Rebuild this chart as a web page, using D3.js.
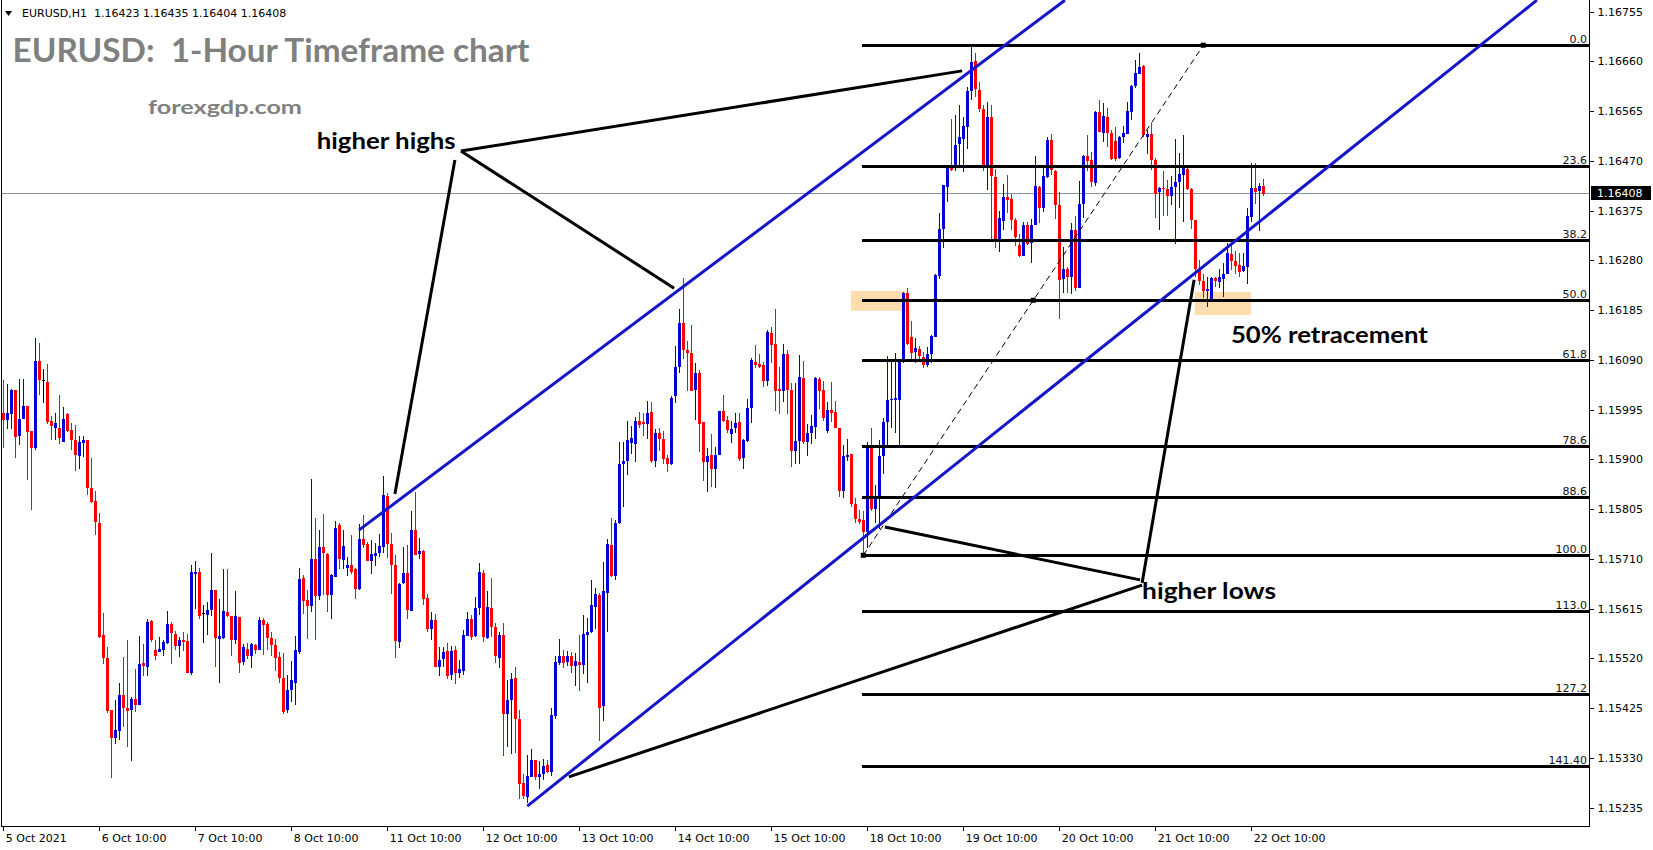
<!DOCTYPE html>
<html><head><meta charset="utf-8">
<script src="https://cdn.jsdelivr.net/npm/d3@7"></script>
<style>body{margin:0;background:#fff;overflow:hidden}svg{display:block}</style>
</head><body>
<svg id="c" width="1653" height="850"></svg>
<script>
// ---- DATA (EURUSD H1, candle index 0 = 5 Oct 2021) ----
const opens = [
1.15988,1.15974,1.15988,1.16032,1.15946,1.15978,1.16002,1.15954,1.15922,1.16088,
1.16051,1.16047,1.15973,1.15961,1.15960,1.15934,1.15986,1.15956,1.15937,1.15908,
1.15932,1.15937,1.15846,1.15820,1.15779,1.15564,1.15520,1.15421,1.15367,1.15383,
1.15451,1.15426,1.15421,1.15443,1.15432,1.15512,1.15504,1.15591,1.15537,1.15532,
1.15536,1.15548,1.15585,1.15567,1.15544,1.15555,1.15553,1.15492,1.15682,1.15686,
1.15606,1.15602,1.15611,1.15650,1.15556,1.15560,1.15609,1.15602,1.15555,1.15599,
1.15513,1.15539,1.15526,1.15546,1.15536,1.15593,1.15585,1.15560,1.15546,1.15522,
1.15482,1.15421,1.15458,1.15473,1.15532,1.15674,1.15631,1.15620,1.15709,1.15639,
1.15732,1.15720,1.15641,1.15677,1.15774,1.15709,1.15692,1.15699,1.15690,1.15652,
1.15748,1.15739,1.15706,1.15717,1.15720,1.15733,1.15830,1.15739,1.15699,1.15553,
1.15663,1.15683,1.15612,1.15766,1.15719,1.15725,1.15636,1.15576,1.15593,1.15504,
1.15518,1.15535,1.15489,1.15536,1.15493,1.15497,1.15564,1.15596,1.15563,1.15616,
1.15684,1.15559,1.15616,1.15580,1.15522,1.15565,1.15415,1.15441,1.15482,1.15404,
1.15282,1.15255,1.15294,1.15326,1.15294,1.15299,1.15317,1.15304,1.15410,1.15512,
1.15525,1.15514,1.15525,1.15506,1.15513,1.15508,1.15565,1.15570,1.15619,1.15641,
1.15428,1.15645,1.15737,1.15676,1.15780,1.15892,1.15896,1.15932,1.15931,1.15974,
1.15971,1.15967,1.15991,1.15897,1.15950,1.15940,1.15903,1.15892,1.16020,1.16076,
1.16160,1.16109,1.16104,1.16032,1.16065,1.15971,1.15895,1.15908,1.15881,1.15908,
1.15992,1.15975,1.15950,1.15959,1.15971,1.15903,1.15936,1.15999,1.16086,1.16083,
1.16080,1.16050,1.16142,1.16120,1.16034,1.16030,1.16101,1.16032,1.15916,1.15935,
1.16055,1.15932,1.15950,1.15962,1.16053,1.16032,1.15953,1.15994,1.15991,1.15961,
1.15841,1.15905,1.15910,1.15815,1.15786,1.15784,1.15762,1.15928,1.15805,1.15826,
1.15907,1.15972,1.16014,1.16014,1.16014,1.16085,1.16217,1.16133,1.16105,1.16110,
1.16096,1.16080,1.16101,1.16133,1.16251,1.16340,1.16421,1.16459,1.16459,1.16501,
1.16513,1.16536,1.16602,1.16660,1.16606,1.16569,1.16457,1.16553,1.16440,1.16320,
1.16357,1.16402,1.16397,1.16357,1.16310,1.16289,1.16348,1.16313,1.16348,1.16421,
1.16380,1.16439,1.16510,1.16451,1.16386,1.16243,1.16263,1.16248,1.16338,1.16227,
1.16388,1.16480,1.16471,1.16429,1.16564,1.16524,1.16553,1.16524,1.16508,1.16475,
1.16516,1.16523,1.16564,1.16612,1.16636,1.16652,1.16516,1.16521,1.16472,1.16411,
1.16418,1.16416,1.16403,1.16420,1.16430,1.16443,1.16455,1.16416,1.16357,1.16263,
1.16241,1.16222,1.16206,1.16246,1.16238,1.16246,1.16255,1.16292,1.16279,1.16271,
1.16260,1.16268,1.16364,1.16419,1.16413,1.16423];
const highs = [
1.16051,1.16045,1.16035,1.16033,1.16053,1.16054,1.16002,1.15954,1.16131,1.16123,
1.16072,1.16083,1.15983,1.15989,1.16024,1.16000,1.15989,1.15970,1.15965,1.15945,
1.15944,1.15938,1.15902,1.15839,1.15798,1.15606,1.15542,1.15421,1.15440,1.15474,
1.15522,1.15555,1.15446,1.15499,1.15562,1.15548,1.15596,1.15593,1.15555,1.15561,
1.15555,1.15610,1.15590,1.15572,1.15561,1.15571,1.15567,1.15699,1.15706,1.15693,
1.15622,1.15627,1.15722,1.15650,1.15634,1.15690,1.15690,1.15602,1.15648,1.15599,
1.15547,1.15550,1.15550,1.15548,1.15599,1.15597,1.15590,1.15571,1.15558,1.15532,
1.15531,1.15488,1.15515,1.15562,1.15692,1.15679,1.15651,1.15862,1.15789,1.15765,
1.15795,1.15721,1.15682,1.15782,1.15778,1.15765,1.15713,1.15755,1.15692,1.15776,
1.15793,1.15743,1.15746,1.15741,1.15757,1.15869,1.15836,1.15760,1.15718,1.15664,
1.15733,1.15737,1.15802,1.15837,1.15750,1.15727,1.15644,1.15609,1.15604,1.15542,
1.15542,1.15549,1.15543,1.15543,1.15517,1.15575,1.15608,1.15603,1.15637,1.15703,
1.15688,1.15649,1.15674,1.15587,1.15570,1.15587,1.15479,1.15493,1.15503,1.15422,
1.15299,1.15336,1.15347,1.15326,1.15324,1.15328,1.15326,1.15426,1.15524,1.15557,
1.15536,1.15535,1.15533,1.15531,1.15565,1.15603,1.15597,1.15670,1.15654,1.15645,
1.15705,1.15748,1.15789,1.15785,1.15934,1.15934,1.15974,1.15963,1.15982,1.15991,
1.15988,1.16011,1.16010,1.15959,1.15961,1.15955,1.15909,1.16021,1.16116,1.16187,
1.16246,1.16126,1.16156,1.16085,1.16071,1.15971,1.15921,1.15948,1.15923,1.15992,
1.16023,1.15983,1.15973,1.15988,1.15988,1.15940,1.16016,1.16093,1.16118,1.16102,
1.16086,1.16147,1.16152,1.16187,1.16077,1.16121,1.16109,1.16046,1.16046,1.16099,
1.16088,1.15967,1.15985,1.16058,1.16058,1.16050,1.16010,1.16047,1.16011,1.15961,
1.15927,1.15940,1.15910,1.15826,1.15803,1.15802,1.15934,1.15961,1.15851,1.15938,
1.15979,1.16098,1.16090,1.16103,1.16091,1.16219,1.16227,1.16164,1.16131,1.16117,
1.16105,1.16115,1.16138,1.16255,1.16370,1.16425,1.16459,1.16550,1.16558,1.16577,
1.16553,1.16612,1.16691,1.16677,1.16621,1.16577,1.16583,1.16577,1.16454,1.16374,
1.16426,1.16443,1.16406,1.16362,1.16331,1.16354,1.16354,1.16360,1.16480,1.16423,
1.16460,1.16516,1.16521,1.16453,1.16411,1.16305,1.16268,1.16351,1.16365,1.16432,
1.16481,1.16520,1.16488,1.16565,1.16586,1.16580,1.16571,1.16529,1.16534,1.16518,
1.16537,1.16583,1.16615,1.16663,1.16676,1.16653,1.16530,1.16542,1.16475,1.16421,
1.16450,1.16434,1.16441,1.16511,1.16485,1.16520,1.16462,1.16418,1.16357,1.16280,
1.16255,1.16248,1.16248,1.16248,1.16263,1.16275,1.16314,1.16313,1.16299,1.16294,
1.16294,1.16380,1.16467,1.16466,1.16427,1.16435];
const lows = [
1.15921,1.15959,1.15959,1.15902,1.15927,1.15978,1.15860,1.15804,1.15919,1.16023,
1.16008,1.15968,1.15937,1.15937,1.15930,1.15934,1.15953,1.15918,1.15878,1.15881,
1.15905,1.15832,1.15816,1.15755,1.15560,1.15509,1.15415,1.15292,1.15357,1.15365,
1.15390,1.15351,1.15324,1.15417,1.15432,1.15486,1.15486,1.15552,1.15517,1.15532,
1.15524,1.15548,1.15510,1.15536,1.15523,1.15534,1.15492,1.15489,1.15614,1.15595,
1.15550,1.15564,1.15602,1.15504,1.15473,1.15558,1.15599,1.15525,1.15548,1.15492,
1.15508,1.15518,1.15502,1.15529,1.15536,1.15526,1.15536,1.15524,1.15496,1.15473,
1.15413,1.15416,1.15437,1.15431,1.15529,1.15604,1.15558,1.15609,1.15555,1.15631,
1.15641,1.15609,1.15595,1.15677,1.15690,1.15690,1.15677,1.15681,1.15633,1.15650,
1.15730,1.15706,1.15681,1.15697,1.15714,1.15721,1.15712,1.15643,1.15521,1.15540,
1.15663,1.15596,1.15611,1.15717,1.15709,1.15623,1.15571,1.15555,1.15503,1.15486,
1.15503,1.15481,1.15479,1.15471,1.15482,1.15489,1.15564,1.15556,1.15561,1.15603,
1.15552,1.15558,1.15561,1.15512,1.15501,1.15333,1.15350,1.15337,1.15340,1.15251,
1.15251,1.15244,1.15294,1.15288,1.15270,1.15288,1.15301,1.15296,1.15405,1.15508,
1.15501,1.15506,1.15493,1.15468,1.15457,1.15491,1.15474,1.15568,1.15576,1.15363,
1.15401,1.15570,1.15676,1.15669,1.15777,1.15810,1.15871,1.15911,1.15896,1.15960,
1.15944,1.15940,1.15894,1.15886,1.15916,1.15892,1.15876,1.15890,1.16007,1.16065,
1.16092,1.16030,1.16032,1.15975,1.15915,1.15859,1.15838,1.15848,1.15845,1.15908,
1.15972,1.15950,1.15932,1.15951,1.15897,1.15881,1.15934,1.15970,1.16075,1.16075,
1.16039,1.16041,1.16085,1.15993,1.15986,1.16010,1.15986,1.15886,1.15891,1.15891,
1.15930,1.15906,1.15930,1.15939,1.15996,1.15974,1.15951,1.15972,1.15960,1.15829,
1.15827,1.15897,1.15810,1.15778,1.15777,1.15717,1.15730,1.15802,1.15779,1.15767,
1.15872,1.15924,1.15961,1.15950,1.15928,1.16084,1.16119,1.16088,1.16085,1.16090,
1.16074,1.16077,1.16084,1.16133,1.16245,1.16303,1.16392,1.16450,1.16450,1.16462,
1.16448,1.16493,1.16586,1.16593,1.16564,1.16451,1.16415,1.16321,1.16303,1.16297,
1.16338,1.16370,1.16338,1.16308,1.16286,1.16289,1.16310,1.16276,1.16348,1.16352,
1.16373,1.16437,1.16443,1.16359,1.16169,1.16217,1.16217,1.16216,1.16222,1.16227,
1.16362,1.16450,1.16421,1.16422,1.16526,1.16507,1.16496,1.16472,1.16469,1.16473,
1.16504,1.16522,1.16548,1.16609,1.16636,1.16516,1.16483,1.16453,1.16362,1.16338,
1.16364,1.16364,1.16386,1.16311,1.16380,1.16354,1.16415,1.16341,1.16248,1.16233,
1.16208,1.16192,1.16206,1.16230,1.16227,1.16210,1.16255,1.16262,1.16255,1.16248,
1.16257,1.16235,1.16354,1.16388,1.16337,1.16404];
const closes = [
1.15975,1.15988,1.16033,1.15943,1.15978,1.16003,1.15953,1.15922,1.16088,1.16051,
1.16051,1.15970,1.15964,1.15970,1.15940,1.15978,1.15953,1.15937,1.15908,1.15934,
1.15937,1.15846,1.15820,1.15779,1.15562,1.15521,1.15419,1.15367,1.15383,1.15451,
1.15426,1.15420,1.15442,1.15432,1.15510,1.15506,1.15590,1.15555,1.15526,1.15538,
1.15552,1.15585,1.15567,1.15544,1.15555,1.15552,1.15492,1.15685,1.15686,1.15602,
1.15606,1.15612,1.15650,1.15558,1.15562,1.15611,1.15602,1.15556,1.15601,1.15511,
1.15541,1.15526,1.15548,1.15536,1.15593,1.15583,1.15558,1.15546,1.15522,1.15482,
1.15417,1.15459,1.15478,1.15536,1.15672,1.15631,1.15620,1.15709,1.15639,1.15733,
1.15720,1.15641,1.15680,1.15770,1.15709,1.15735,1.15698,1.15685,1.15652,1.15748,
1.15737,1.15706,1.15720,1.15722,1.15734,1.15832,1.15739,1.15698,1.15553,1.15663,
1.15683,1.15613,1.15766,1.15719,1.15725,1.15633,1.15576,1.15594,1.15504,1.15517,
1.15532,1.15487,1.15535,1.15493,1.15500,1.15565,1.15596,1.15561,1.15616,1.15685,
1.15561,1.15618,1.15580,1.15524,1.15565,1.15414,1.15441,1.15481,1.15403,1.15280,
1.15258,1.15296,1.15326,1.15294,1.15299,1.15315,1.15304,1.15412,1.15513,1.15525,
1.15512,1.15525,1.15505,1.15515,1.15508,1.15567,1.15570,1.15622,1.15643,1.15426,
1.15648,1.15739,1.15678,1.15778,1.15892,1.15897,1.15937,1.15941,1.15974,1.15967,
1.15967,1.15988,1.15897,1.15950,1.15939,1.15901,1.15892,1.16018,1.16076,1.16160,
1.16109,1.16104,1.16032,1.16065,1.15967,1.15895,1.15906,1.15881,1.15908,1.15992,
1.15972,1.15956,1.15959,1.15969,1.15901,1.15937,1.15999,1.16090,1.16080,1.16078,
1.16050,1.16144,1.16120,1.16030,1.16030,1.16101,1.16032,1.15916,1.15935,1.16057,
1.15932,1.15950,1.15964,1.16055,1.16030,1.15979,1.15994,1.15989,1.15961,1.15841,
1.15907,1.15908,1.15815,1.15786,1.15780,1.15762,1.15928,1.15805,1.15826,1.15907,
1.15972,1.16014,1.16015,1.16018,1.16087,1.16217,1.16120,1.16103,1.16112,1.16096,
1.16080,1.16101,1.16136,1.16252,1.16341,1.16424,1.16457,1.16454,1.16501,1.16515,
1.16537,1.16604,1.16658,1.16606,1.16569,1.16457,1.16553,1.16440,1.16320,1.16362,
1.16402,1.16397,1.16357,1.16324,1.16289,1.16348,1.16311,1.16348,1.16423,1.16380,
1.16441,1.16510,1.16452,1.16386,1.16243,1.16263,1.16248,1.16338,1.16227,1.16388,
1.16480,1.16471,1.16429,1.16564,1.16526,1.16556,1.16522,1.16475,1.16474,1.16516,
1.16524,1.16566,1.16614,1.16637,1.16650,1.16520,1.16521,1.16472,1.16408,1.16418,
1.16416,1.16402,1.16421,1.16430,1.16445,1.16457,1.16416,1.16357,1.16263,1.16241,
1.16222,1.16225,1.16246,1.16240,1.16248,1.16255,1.16295,1.16278,1.16269,1.16257,
1.16269,1.16365,1.16419,1.16411,1.16422,1.16408];

const xTickIndex  = [0,24,48,72,96,120,144,168,192,216,240,264,288,312];
const xTickLabels = ["5 Oct 2021","6 Oct 10:00","7 Oct 10:00","8 Oct 10:00","11 Oct 10:00","12 Oct 10:00",
  "13 Oct 10:00","14 Oct 10:00","15 Oct 10:00","18 Oct 10:00","19 Oct 10:00","20 Oct 10:00","21 Oct 10:00","22 Oct 10:00"];
const yTickValues = [1.15235,1.15330,1.15425,1.15520,1.15615,1.15710,1.15805,1.15900,1.15995,
  1.16090,1.16185,1.16280,1.16375,1.16470,1.16565,1.16660,1.16755];
const yTickLabels = ["1.15235","1.15330","1.15425","1.15520","1.15615","1.15710","1.15805","1.15900","1.15995",
  "1.16090","1.16185","1.16280","1.16375","1.16470","1.16565","1.16660","1.16755"];

const lastPrice = 1.16408;
const headerText = "EURUSD,H1  1.16423 1.16435 1.16404 1.16408";

// Fibonacci retracement (anchor: low index 215 -> high index 300)
const fibIndex  = [215, 300];
const fibPrice  = [1.15717, 1.16691];
const fibLevels = [0, 23.6, 38.2, 50, 61.8, 78.6, 88.6, 100, 111, 127.2, 141.4];
const fibLabels = ["0.0","23.6","38.2","50.0","61.8","78.6","88.6","100.0","113.0","127.2","141.40"];

// channel trend lines [index, price] pairs (rays)
const upperTrend = [[88.9, 1.15765], [265.4, 1.16777]];
const lowerTrend = [[131.0, 1.15238], [383.4, 1.16777]];

// annotation pointer lines [index, price]
const pointerLines = [
  [[114.4, 1.16489], [239.7, 1.16642]],
  [[114.4, 1.16489], [167.7, 1.16227]],
  [[112.9, 1.16472], [97.9, 1.15834]],
  [[297.7, 1.16243], [284.7, 1.15664]],
  [[284.7, 1.15660], [141.4, 1.15294]],
  [[284.2, 1.15670], [220.4, 1.15771]]
];
// highlight zones [i0, i1, pLow, pHigh]
const zones = [[211.9, 225.8, 1.16184, 1.16222], [297.9, 311.9, 1.16176, 1.16220]];
// annotation texts [text, index, price, width]
const notes = [["higher highs", 78.35, 1.16492, 139], ["50% retracement", 306.9, 1.16122, 197], ["higher lows", 284.7, 1.15634, 134]];

// ---- DRAW ----
const plotR = 1589, plotB = 826;
const svg = d3.select("#c");
svg.append("rect").attr("width",1653).attr("height",850).attr("fill","#fff");
const x = d3.scaleLinear().domain([0, 315]).range([3.3, 1263.3]);
const y = d3.scaleLinear().domain([1.15235, 1.16755]).range([807.7, 11.7]);
const BLUE = "#0000d8", RED = "#ff0000", LINEBLUE = "#1414c8";

svg.append("defs").append("clipPath").attr("id","clip")
  .append("rect").attr("x",2).attr("y",0).attr("width",plotR-2).attr("height",plotB);
const g = svg.append("g").attr("clip-path","url(#clip)");

// zones
g.selectAll("rect.zone").data(zones).join("rect")
  .attr("x", d => x(d[0])).attr("width", d => x(d[1]) - x(d[0]))
  .attr("y", d => y(d[3])).attr("height", d => y(d[2]) - y(d[3]))
  .attr("fill", "#fddcae");

// current price line
g.append("line").attr("x1",0).attr("x2",plotR).attr("y1",Math.round(y(lastPrice))+0.5).attr("y2",Math.round(y(lastPrice))+0.5)
  .attr("stroke","#8a93a3").attr("stroke-width",1);

// candles
const idx = d3.range(opens.length);
const col = i => closes[i] > opens[i] ? BLUE : (closes[i] < opens[i] ? RED : "#000");
const cg = g.append("g").attr("shape-rendering","crispEdges");
cg.selectAll("line.w").data(idx).join("line")
  .attr("x1", i => Math.round(x(i)) + 0.5).attr("x2", i => Math.round(x(i)) + 0.5)
  .attr("y1", i => y(highs[i])).attr("y2", i => y(lows[i]))
  .attr("stroke", col).attr("stroke-width", 1);
cg.selectAll("rect.b").data(idx).join("rect")
  .attr("x", i => Math.round(x(i)) - 1).attr("width", 3)
  .attr("y", i => Math.round(y(Math.max(opens[i], closes[i]))))
  .attr("height", i => Math.max(1, Math.round(Math.abs(y(opens[i]) - y(closes[i])))))
  .attr("fill", col);

// fib levels
const fibP = L => fibPrice[1] - (fibPrice[1] - fibPrice[0]) * L / 100;
const fx0 = x(fibIndex[0]) - 1;
g.selectAll("line.fib").data(fibLevels).join("line")
  .attr("x1", fx0).attr("x2", plotR).attr("y1", d => Math.round(y(fibP(d)))+0.5).attr("y2", d => Math.round(y(fibP(d)))+0.5)
  .attr("stroke","#000").attr("stroke-width",3).attr("shape-rendering","crispEdges");
svg.selectAll("text.fib").data(fibLevels).join("text")
  .attr("x", 1587).attr("y", d => Math.round(y(fibP(d))) - 2)
  .attr("text-anchor","end").attr("font-family","DejaVu Sans").attr("font-size",11).attr("fill","#111")
  .text((d,i) => fibLabels[i]);
// fib dashed diagonal
g.append("line").attr("x1", x(fibIndex[0])).attr("y1", y(fibPrice[0])).attr("x2", x(fibIndex[1])).attr("y2", y(fibPrice[1]))
  .attr("stroke","#000").attr("stroke-width",1).attr("stroke-dasharray","6,4");
const midI = (fibIndex[0] + fibIndex[1]) / 2, midP = fibP(50);
g.selectAll("rect.anch").data([[fibIndex[0], fibPrice[0]], [midI, midP], [fibIndex[1], fibPrice[1]]]).join("rect")
  .attr("x", d => x(d[0]) - 2.5).attr("y", d => y(d[1]) - 2.5).attr("width",5).attr("height",5).attr("fill","#000");

// trend lines
const seg = (a, b) => g.append("line").attr("x1", x(a[0])).attr("y1", y(a[1])).attr("x2", x(b[0])).attr("y2", y(b[1]));
seg(upperTrend[0], upperTrend[1]).attr("stroke", LINEBLUE).attr("stroke-width", 3);
seg(lowerTrend[0], lowerTrend[1]).attr("stroke", LINEBLUE).attr("stroke-width", 3);
// pointer lines
pointerLines.forEach(p => seg(p[0], p[1]).attr("stroke","#000").attr("stroke-width",3));

// annotation texts
svg.selectAll("text.note").data(notes).join("text")
  .attr("x", d => x(d[1])).attr("y", d => y(d[2]))
  .attr("font-family","Lato").attr("font-weight","bold").attr("font-size",23).attr("fill","#000")
  .attr("textLength", d => d[3]).attr("lengthAdjust","spacingAndGlyphs")
  .text(d => d[0]);

// frame lines
svg.append("line").attr("x1",1.5).attr("x2",1.5).attr("y1",0).attr("y2",plotB+0.5).attr("stroke","#000");
svg.append("line").attr("x1",1).attr("x2",plotR+0.5).attr("y1",plotB+0.5).attr("y2",plotB+0.5).attr("stroke","#000");
svg.append("line").attr("x1",plotR+0.5).attr("x2",plotR+0.5).attr("y1",0).attr("y2",plotB+1).attr("stroke","#000");

// y axis
const ya = svg.append("g").attr("transform", `translate(${plotR+0.5},0)`)
  .call(d3.axisRight(y).tickValues(yTickValues).tickSize(4).tickPadding(4).tickFormat((d,i) => yTickLabels[i]));
ya.select(".domain").remove();
ya.selectAll("text").attr("font-family","DejaVu Sans").attr("font-size",11).attr("fill","#000");
ya.selectAll("line").attr("stroke","#000").attr("shape-rendering","crispEdges");

// x axis
const xa = svg.append("g").attr("transform", `translate(0,${plotB+0.5})`)
  .call(d3.axisBottom(x).tickValues(xTickIndex).tickSize(4).tickFormat((d,i) => xTickLabels[i]));
xa.select(".domain").remove();
xa.selectAll("text").attr("font-family","DejaVu Sans").attr("font-size",11).attr("fill","#000")
  .attr("text-anchor","start").attr("dx", 2).attr("y", 8).attr("dy","0.71em");
xa.selectAll("line").attr("stroke","#000").attr("shape-rendering","crispEdges");

// last price label
const ly = Math.round(y(lastPrice));
svg.append("rect").attr("x", plotR+2).attr("y", ly-7).attr("width", 60).attr("height", 14).attr("fill","#000");
svg.append("text").attr("x", plotR+8).attr("y", ly+4).attr("font-family","DejaVu Sans").attr("font-size",11)
  .attr("fill","#fff").text(d3.format(".5f")(lastPrice));

// header
svg.append("path").attr("d","M5,11 L12,11 L8.5,16 Z").attr("fill","#000");
svg.append("text").attr("x",22).attr("y",17).attr("font-family","DejaVu Sans").attr("font-size",11).attr("fill","#000")
  .attr("xml:space","preserve").style("white-space","pre").text(headerText);
svg.append("text").attr("x",12.5).attr("y",62).attr("font-family","Lato").attr("font-weight","bold").attr("font-size",33)
  .attr("fill","#808080").attr("textLength",517).attr("lengthAdjust","spacingAndGlyphs")
  .style("white-space","pre").text("EURUSD:  1-Hour Timeframe chart");
svg.append("text").attr("x",148).attr("y",114).attr("font-family","Lato").attr("font-weight","bold").attr("font-size",19)
  .attr("fill","#808080").attr("textLength",154).attr("lengthAdjust","spacingAndGlyphs").text("forexgdp.com");
</script>
</body></html>
